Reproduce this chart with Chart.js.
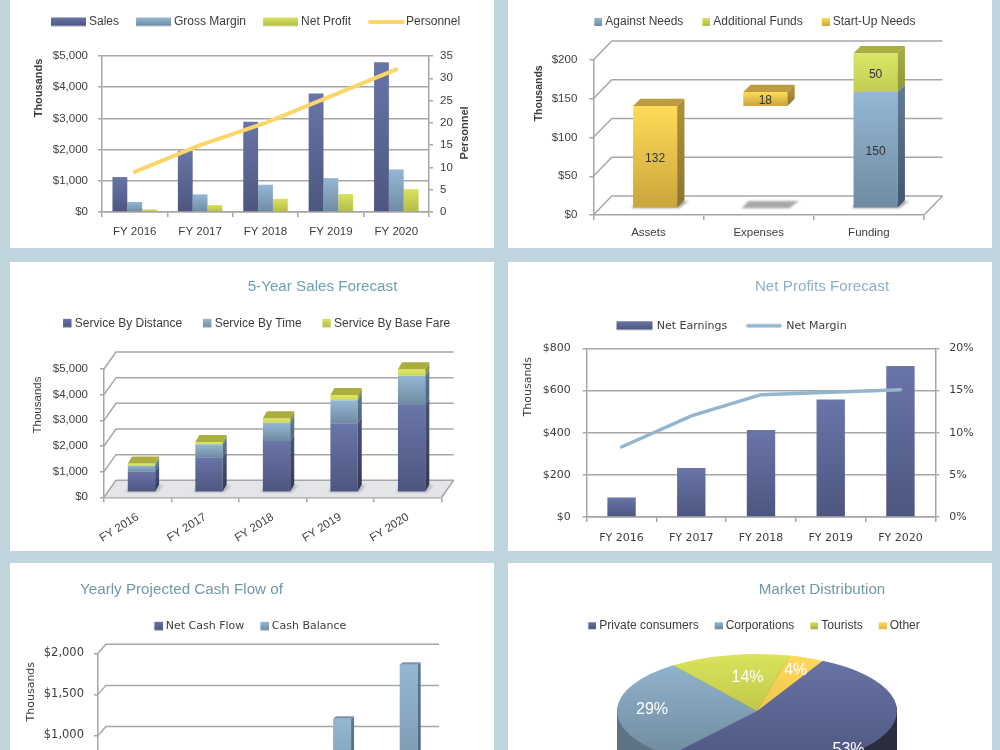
<!DOCTYPE html>
<html>
<head>
<meta charset="utf-8">
<title>Financial dashboard</title>
<script src="https://cdn.jsdelivr.net/npm/chart.js@4/dist/chart.umd.js"></script>
<style>
  html, body { margin: 0; padding: 0; width: 1000px; height: 750px; overflow: hidden; background: #bfd4dc; }
  .panel { position: absolute; background: #fff; overflow: hidden; }
  canvas { display: block; }
</style>
</head>
<body>
<script>
// ---- Series values ----
const years = ['FY 2016', 'FY 2017', 'FY 2018', 'FY 2019', 'FY 2020'];

const salesValues = [1120, 1960, 2890, 3795, 4800];
const grossMarginValues = [320, 565, 875, 1087, 1365];
const netProfitValues = [85, 224, 426, 575, 735];
const personnelValues = [9, 15, 20, 26, 32];

const needsCategories = ['Assets', 'Expenses', 'Funding'];
const stackOffset = [0, 132, 0];
const againstNeeds = [0, 0, 150];
const additionalFunds = [0, 0, 50];
const startUpNeeds = [132, 18, 0];

const serviceByDistance = [805, 1364, 2000, 2690, 3400];
const serviceByTime = [225, 505, 715, 896, 1143];
const serviceByBaseFare = [90, 91, 175, 209, 257];

const netEarnings = [93, 232, 413, 557, 716];
const netMargin = [8.3, 12, 14.5, 14.8, 15.1];

const netCashFlow = [120, 170, 330, 546, 657];
const cashBalance = [150, 290, 620, 1166, 1823];

const marketLabels = ['Private consumers', 'Corporations', 'Tourists', 'Other'];
const marketShares = [53, 29, 14, 4];

// ---- Palette and fonts ----
const INDIGO = ['#6a75a8', '#4c567f'];
const STEEL = ['#95b7d3', '#6f8ba3'];
const LIME = ['#d9e35e', '#b3bb45'];
const AMBER = ['#ffdb58', '#c9a53c'];
const GRID = '#a6a6a6';
const TEXT = '#3d3d3d';
const SANS = 'Liberation Sans';
const WIDE = 'DejaVu Sans';
const PANEL_W = 484;

// Vertical gradient stretched over one bar, following its stack position.
function barFill(stops) {
  return c => {
    if (c.type !== 'data' || !c.chart.chartArea) return stops[1];
    const s = c.chart.scales[c.dataset.yAxisID || 'y'];
    let below = 0;
    if (s.options.stacked) {
      for (let i = 0; i < c.datasetIndex; i++) below += c.chart.data.datasets[i].data[c.dataIndex] || 0;
    }
    const g = c.chart.ctx.createLinearGradient(0, s.getPixelForValue(below + (c.raw || 0)), 0, s.getPixelForValue(below));
    g.addColorStop(0, stops[0]);
    g.addColorStop(1, stops[1]);
    return g;
  };
}

// Legend key painted on a small canvas; the text gap is tightened through pointStyleWidth.
function keyWidth(sw, gap, fontSize) { return sw + gap - fontSize / 2; }
function legendKey(sw, h, pw, stops, isLine) {
  const c = document.createElement('canvas');
  c.width = Math.ceil(2 * sw - pw);
  c.height = Math.ceil(h) + 2;
  const x = c.getContext('2d');
  const left = sw - pw;
  if (isLine) {
    x.strokeStyle = stops[0];
    x.lineWidth = h;
    x.lineCap = 'round';
    x.beginPath();
    x.moveTo(left + h / 2, c.height / 2);
    x.lineTo(left + sw - h / 2, c.height / 2);
    x.stroke();
  } else {
    const g = x.createLinearGradient(0, 1, 0, 1 + h);
    g.addColorStop(0, stops[0]);
    g.addColorStop(1, stops[1]);
    x.fillStyle = g;
    x.fillRect(left, 1, sw, h);
  }
  return c;
}

function legendOptions(spec) {
  const pw = keyWidth(spec.sw, spec.gap, spec.size);
  const items = spec.items.map(it => ({
    text: it.text,
    fontColor: TEXT,
    hidden: false,
    lineWidth: 0,
    fillStyle: 'transparent',
    strokeStyle: 'transparent',
    pointStyle: legendKey(it.sw || spec.sw, it.h || spec.h, pw, it.stops, it.line)
  }));
  return {
    display: true,
    position: 'top',
    align: 'start',
    labels: {
      font: { family: spec.family, size: spec.size },
      color: TEXT,
      usePointStyle: true,
      pointStyleWidth: pw,
      boxHeight: 12,
      padding: spec.padding,
      generateLabels: () => items
    }
  };
}

function titleOptions(spec) {
  return spec
    ? { display: true, text: spec.text, color: spec.color, padding: 0,
        font: { family: SANS, size: 15.2, weight: 'normal', lineHeight: 1.2 } }
    : { display: false };
}

// Title and legend take no room in the layout and sit at their own anchors.
function anchorBoxes(spec) {
  return {
    id: 'anchorBoxes',
    beforeLayout(chart) {
      [chart.legend, chart.titleBlock].forEach(b => {
        if (b && !b.flattened) {
          const update = b.update;
          b.update = function (...args) { update.apply(this, args); this.height = 0; };
          b.flattened = true;
        }
      });
    },
    afterLayout(chart) {
      const l = chart.legend;
      const pad = spec.legend.padding;
      l.left = spec.legend.x - pad;
      l.right = chart.width + 300;
      l.top = spec.legend.cy - spec.legend.size / 2 - pad;
      l.bottom = l.top + 60;
      if (spec.title) {
        const t = chart.titleBlock;
        t.left = spec.title.cx - 150;
        t.right = spec.title.cx + 150;
        t.top = spec.title.cy - 15.2 * 0.6;
        t.bottom = t.top + 20;
      }
    }
  };
}

// Rotated axis captions.
function axisCaptions(list) {
  return {
    id: 'axisCaptions',
    afterDraw(chart) {
      const ctx = chart.ctx;
      list.forEach(n => {
        ctx.save();
        ctx.translate(n.x, n.y);
        ctx.rotate(-Math.PI / 2);
        ctx.font = n.font;
        ctx.fillStyle = TEXT;
        ctx.textAlign = 'center';
        ctx.textBaseline = 'middle';
        ctx.fillText(n.text, 0, 0);
        ctx.restore();
      });
    }
  };
}

// Box-frame walls, floor and extruded bar sides for the perspective panels.
function depthFrame(spec) {
  const tickValues = chart => chart.scales.y.ticks.map(t => t.value);
  return {
    id: 'depthFrame',
    beforeDatasetsDraw(chart) {
      const { ctx, chartArea: a, scales: { y } } = chart;
      const { wx, wy } = spec;
      ctx.save();
      if (spec.floor) {
        ctx.fillStyle = spec.floor;
        ctx.beginPath();
        ctx.moveTo(a.left, a.bottom);
        ctx.lineTo(a.right, a.bottom);
        ctx.lineTo(a.right + wx, a.bottom - wy);
        ctx.lineTo(a.left + wx, a.bottom - wy);
        ctx.closePath();
        ctx.fill();
      }
      ctx.strokeStyle = GRID;
      ctx.lineWidth = 1.5;
      tickValues(chart).forEach(v => {
        const p = y.getPixelForValue(v);
        ctx.beginPath();
        ctx.moveTo(a.left, p);
        ctx.lineTo(a.left + wx, p - wy);
        ctx.lineTo(a.right + wx, p - wy);
        ctx.stroke();
      });
      ctx.beginPath();
      ctx.moveTo(a.right, a.bottom);
      ctx.lineTo(a.right + wx, a.bottom - wy);
      ctx.stroke();
      ctx.restore();

      ctx.save();
      ctx.translate(spec.sx, -spec.sy);
      if (spec.shadow) {
        const first = chart.getDatasetMeta(0).data;
        ctx.save();
        ctx.filter = 'blur(1.2px)';
        ctx.fillStyle = spec.shadow;
        first.forEach(bar => {
          const { x, width } = bar.getProps(['x', 'width']);
          const base = y.getPixelForValue(0);
          const l = x - width / 2 - 2;
          const r = x + width / 2 + 2;
          ctx.beginPath();
          ctx.moveTo(l, base);
          ctx.lineTo(r, base);
          ctx.lineTo(r + spec.dx + 2, base - spec.dy);
          ctx.lineTo(l + spec.dx, base - spec.dy);
          ctx.closePath();
          ctx.fill();
        });
        ctx.restore();
      }
    },
    afterDatasetsDraw(chart) {
      const ctx = chart.ctx;
      const stacked = chart.scales.y.options.stacked;
      chart.data.datasets.forEach((ds, di) => {
        if (!ds.sideStops) return;
        chart.getDatasetMeta(di).data.forEach((bar, i) => {
          const { x, y, base, width } = bar.getProps(['x', 'y', 'base', 'width']);
          if (Math.abs(base - y) < 0.5) return;
          const r = x + width / 2;
          const l = x - width / 2;
          const g = ctx.createLinearGradient(0, y, 0, base);
          g.addColorStop(0, ds.sideStops[0]);
          g.addColorStop(1, ds.sideStops[1]);
          ctx.fillStyle = g;
          ctx.beginPath();
          ctx.moveTo(r, y);
          ctx.lineTo(r + spec.dx, y - spec.dy);
          ctx.lineTo(r + spec.dx, base - spec.dy);
          ctx.lineTo(r, base);
          ctx.closePath();
          ctx.fill();
          const covered = stacked && chart.data.datasets.slice(di + 1).some(d => d.sideStops && d.data[i] > 0);
          if (!covered) {
            ctx.fillStyle = ds.topColor;
            ctx.beginPath();
            ctx.moveTo(l, y);
            ctx.lineTo(r, y);
            ctx.lineTo(r + spec.dx, y - spec.dy);
            ctx.lineTo(l + spec.dx, y - spec.dy);
            ctx.closePath();
            ctx.fill();
          }
        });
      });
      ctx.restore();
    }
  };
}

function moneyScale(spec) {
  return {
    position: 'left',
    min: 0,
    max: spec.max,
    stacked: !!spec.stacked,
    afterFit: s => { s.width = spec.plot.l; },
    ticks: {
      stepSize: spec.step,
      padding: spec.tickPad,
      color: TEXT,
      font: { family: spec.family, size: spec.size },
      callback: v => '$' + Number(v).toLocaleString('en-US')
    },
    grid: { color: GRID, lineWidth: 1.5, tickLength: 4, drawOnChartArea: !spec.flatOff },
    border: { color: GRID, width: 1.5 }
  };
}

function categoryScale(spec) {
  return {
    stacked: !!spec.stacked,
    afterFit: s => { s.height = spec.h - spec.plot.b; },
    ticks: {
      autoSkip: false,
      padding: spec.labelPad,
      color: TEXT,
      font: { family: spec.family, size: spec.size },
      maxRotation: spec.rotate || 0,
      minRotation: spec.rotate || 0
    },
    grid: { color: GRID, lineWidth: 1.5, tickLength: 5, drawOnChartArea: false },
    border: { color: GRID, width: 1.5 }
  };
}

function rightScale(spec) {
  return {
    position: 'right',
    min: 0,
    max: spec.max,
    afterFit: s => { s.width = spec.width; },
    ticks: {
      stepSize: spec.step,
      padding: spec.tickPad,
      color: TEXT,
      font: { family: spec.family, size: spec.size },
      callback: spec.format || (v => v)
    },
    grid: { color: GRID, lineWidth: 1.5, tickLength: 4, drawOnChartArea: false },
    border: { color: GRID, width: 1.5 }
  };
}

function plotPadding(plot, rightWidth) {
  return { left: 0, top: plot.t, bottom: 0, right: PANEL_W - plot.r - (rightWidth || 0) };
}

function mount(x, y, h, config) {
  const host = document.createElement('div');
  host.className = 'panel';
  host.style.cssText = `left:${x}px;top:${y}px;width:${PANEL_W}px;height:${h}px`;
  const canvas = document.createElement('canvas');
  canvas.width = PANEL_W;
  canvas.height = h;
  host.appendChild(canvas);
  document.body.appendChild(host);
  config.options = Object.assign({ responsive: false, animation: false, events: [] }, config.options);
  return new Chart(canvas, config);
}

// ---- Financial highlights ----
(function () {
  const h = 248;
  const plot = { l: 92, r: 419, t: 56, b: 212 };
  const rightWidth = 45;
  mount(10, 0, h, {
    type: 'bar',
    data: {
      labels: years,
      datasets: [
        { type: 'line', label: 'Personnel', data: personnelValues, yAxisID: 'y1', order: 0, borderColor: '#fbd669', borderWidth: 4, borderCapStyle: 'round', pointRadius: 0, tension: 0, clip: false },
        { label: 'Sales', data: salesValues, order: 1, backgroundColor: barFill(INDIGO), categoryPercentage: 0.68, barPercentage: 1 },
        { label: 'Gross Margin', data: grossMarginValues, order: 1, backgroundColor: barFill(STEEL), categoryPercentage: 0.68, barPercentage: 1 },
        { label: 'Net Profit', data: netProfitValues, order: 1, backgroundColor: barFill(LIME), categoryPercentage: 0.68, barPercentage: 1 }
      ]
    },
    options: {
      layout: { padding: plotPadding(plot, rightWidth) },
      scales: {
        x: categoryScale({ h, plot, labelPad: 7.5, family: SANS, size: 11.5 }),
        y: moneyScale({ plot, max: 5000, step: 1000, tickPad: 10, family: SANS, size: 11.5 }),
        y1: rightScale({ max: 35, step: 5, tickPad: 7, family: SANS, size: 11.5, width: rightWidth })
      },
      plugins: {
        title: titleOptions(null),
        legend: legendOptions({
          family: SANS, size: 12, sw: 35, h: 8.5, gap: 3, padding: 17,
          items: [
            { text: 'Sales', stops: INDIGO },
            { text: 'Gross Margin', stops: STEEL },
            { text: 'Net Profit', stops: LIME },
            { text: 'Personnel', stops: ['#fbd669'], line: true, sw: 37, h: 4 }
          ]
        })
      }
    },
    plugins: [
      anchorBoxes({ legend: { x: 41, cy: 22, padding: 17, size: 12 } }),
      axisCaptions([
        { text: 'Thousands', x: 29.3, y: 88, font: `bold 11px "${SANS}"` },
        { text: 'Personnel', x: 455, y: 133, font: `bold 11px "${SANS}"` }
      ])
    ]
  });
})();

// ---- Start-up funding ----
(function () {
  const h = 248;
  const plot = { l: 85.3, r: 416, t: 60, b: 215 };
  mount(508, 0, h, {
    type: 'bar',
    data: {
      labels: needsCategories,
      datasets: [
        { label: 'Offset', data: stackOffset, backgroundColor: 'rgba(0,0,0,0)', categoryPercentage: 0.4, barPercentage: 1 },
        { label: 'Against Needs', data: againstNeeds, backgroundColor: barFill(STEEL), sideStops: ['#5f7896', '#44566f'], topColor: '#7d94ac', categoryPercentage: 0.4, barPercentage: 1 },
        { label: 'Additional Funds', data: additionalFunds, backgroundColor: barFill(['#dbe565', '#c3cd52']), sideStops: ['#a3aa40', '#8e9636'], topColor: '#a9ae3f', categoryPercentage: 0.4, barPercentage: 1 },
        { label: 'Start-Up Needs', data: startUpNeeds, backgroundColor: barFill(AMBER), sideStops: ['#ab8f3a', '#8d7532'], topColor: '#bc9c3d', categoryPercentage: 0.4, barPercentage: 1 }
      ]
    },
    options: {
      layout: { padding: plotPadding(plot) },
      scales: {
        x: categoryScale({ h, plot, labelPad: 6, family: SANS, size: 11.5, stacked: true }),
        y: moneyScale({ plot, max: 200, step: 50, tickPad: 12, family: SANS, size: 11.5, stacked: true, flatOff: true })
      },
      plugins: {
        title: titleOptions(null),
        legend: legendOptions({
          family: SANS, size: 12, sw: 8, h: 8, gap: 3, padding: 19,
          items: [
            { text: 'Against Needs', stops: STEEL },
            { text: 'Additional Funds', stops: LIME },
            { text: 'Start-Up Needs', stops: AMBER }
          ]
        })
      }
    },
    plugins: [
      anchorBoxes({ legend: { x: 86.3, cy: 22, padding: 19, size: 12 } }),
      depthFrame({ wx: 18.5, wy: 19, sx: 6.7, sy: 6.7, dx: 7.3, dy: 7.3, shadow: '#a9a9a9' }),
      axisCaptions([{ text: 'Thousands', x: 31, y: 93.3, font: `bold 10.5px "${SANS}"` }]),
      {
        // Value captions on the funding stacks.
        id: 'stackValues',
        afterDatasetsDraw(chart) {
          const ctx = chart.ctx;
          ctx.save();
          ctx.translate(6.7, -4.7);
          ctx.font = `12px "${SANS}"`;
          ctx.fillStyle = '#333';
          ctx.textAlign = 'center';
          ctx.textBaseline = 'middle';
          chart.data.datasets.forEach((ds, di) => {
            if (!di) return;
            chart.getDatasetMeta(di).data.forEach((bar, i) => {
              if (ds.data[i] > 0) {
                const { x, y, base } = bar.getProps(['x', 'y', 'base']);
                ctx.fillText(String(ds.data[i]), x, (y + base) / 2);
              }
            });
          });
          ctx.restore();
        }
      }
    ]
  });
})();

// ---- 5-Year Sales Forecast ----
(function () {
  const h = 289;
  const plot = { l: 94, r: 431.7, t: 107, b: 235.3 };
  mount(10, 262, h, {
    type: 'bar',
    data: {
      labels: years,
      datasets: [
        { label: 'Service By Distance', data: serviceByDistance, backgroundColor: barFill(INDIGO), sideStops: ['#475178', '#323a57'], topColor: '#525c86', categoryPercentage: 0.405, barPercentage: 1 },
        { label: 'Service By Time', data: serviceByTime, backgroundColor: barFill(STEEL), sideStops: ['#5a7492', '#4b627d'], topColor: '#7d94ac', categoryPercentage: 0.405, barPercentage: 1 },
        { label: 'Service By Base Fare', data: serviceByBaseFare, backgroundColor: barFill(['#dde665', '#d1da58']), sideStops: ['#8e9636', '#8e9636'], topColor: '#a9ae3f', categoryPercentage: 0.405, barPercentage: 1 }
      ]
    },
    options: {
      layout: { padding: plotPadding(plot) },
      scales: {
        x: categoryScale({ h, plot, labelPad: 8, family: SANS, size: 11.5, stacked: true, rotate: 32 }),
        y: moneyScale({ plot, max: 5000, step: 1000, tickPad: 12, family: SANS, size: 11.5, stacked: true, flatOff: true })
      },
      plugins: {
        title: titleOptions({ text: '5-Year Sales Forecast', color: '#6f9fb1' }),
        legend: legendOptions({
          family: SANS, size: 12, sw: 8.5, h: 8.5, gap: 3, padding: 21,
          items: [
            { text: 'Service By Distance', stops: INDIGO },
            { text: 'Service By Time', stops: STEEL },
            { text: 'Service By Base Fare', stops: LIME }
          ]
        })
      }
    },
    plugins: [
      anchorBoxes({ legend: { x: 53.3, cy: 61.3, padding: 21, size: 12 }, title: { cx: 312.5, cy: 25 } }),
      depthFrame({ wx: 12, wy: 17, sx: 3.7, sy: 5, dx: 4, dy: 7, floor: '#e3e5e9', shadow: 'rgba(150,150,150,0.55)' }),
      axisCaptions([{ text: 'Thousands', x: 27.7, y: 143, font: `11.5px "${SANS}"` }])
    ]
  });
})();

// ---- Net Profits Forecast ----
(function () {
  const h = 289;
  const plot = { l: 78.7, r: 427.3, t: 86.3, b: 255 };
  const rightWidth = 50;
  mount(508, 262, h, {
    type: 'bar',
    data: {
      labels: years,
      datasets: [
        { type: 'line', label: 'Net Margin', data: netMargin, yAxisID: 'y1', order: 0, borderColor: '#93b5cd', borderWidth: 3.5, borderCapStyle: 'round', pointRadius: 0, tension: 0, clip: false },
        { label: 'Net Earnings', data: netEarnings, order: 1, backgroundColor: barFill(INDIGO), categoryPercentage: 0.407, barPercentage: 1 }
      ]
    },
    options: {
      layout: { padding: plotPadding(plot, rightWidth) },
      scales: {
        x: categoryScale({ h, plot, labelPad: 10, family: WIDE, size: 11 }),
        y: moneyScale({ plot, max: 800, step: 200, tickPad: 12, family: WIDE, size: 11 }),
        y1: rightScale({ max: 20, step: 5, tickPad: 10, family: WIDE, size: 11, width: rightWidth, format: v => v + '%' })
      },
      plugins: {
        title: titleOptions({ text: 'Net Profits Forecast', color: '#8eb0c8' }),
        legend: legendOptions({
          family: WIDE, size: 11, sw: 36, h: 8.5, gap: 4, padding: 19,
          items: [
            { text: 'Net Earnings', stops: INDIGO },
            { text: 'Net Margin', stops: ['#93b5cd'], line: true, h: 3.5 }
          ]
        })
      }
    },
    plugins: [
      anchorBoxes({ legend: { x: 108.7, cy: 63.7, padding: 19, size: 11 }, title: { cx: 314, cy: 25 } }),
      axisCaptions([{ text: 'Thousands', x: 19.7, y: 124.7, font: `11px "${WIDE}"` }])
    ]
  });
})();

// ---- Yearly Projected Cash Flow ----
(function () {
  const h = 288;
  const plot = { l: 88, r: 421, t: 90.3, b: 254.6 };
  mount(10, 563, h, {
    type: 'bar',
    data: {
      labels: years,
      datasets: [
        { label: 'Net Cash Flow', data: netCashFlow, backgroundColor: barFill(INDIGO), sideStops: ['#475178', '#323a57'], topColor: '#525c86', categoryPercentage: 0.54, barPercentage: 1 },
        { label: 'Cash Balance', data: cashBalance, backgroundColor: barFill(STEEL), sideStops: ['#5f7896', '#44566f'], topColor: '#7d94ac', categoryPercentage: 0.54, barPercentage: 1 }
      ]
    },
    options: {
      layout: { padding: plotPadding(plot) },
      scales: {
        x: categoryScale({ h, plot, labelPad: 4, family: WIDE, size: 11 }),
        y: moneyScale({ plot, max: 2000, step: 500, tickPad: 10, family: WIDE, size: 11.5, flatOff: true })
      },
      plugins: {
        title: titleOptions({ text: 'Yearly Projected Cash Flow of', color: '#7099a8' }),
        legend: legendOptions({
          family: WIDE, size: 11, sw: 8.5, h: 8.5, gap: 3, padding: 16,
          items: [
            { text: 'Net Cash Flow', stops: INDIGO },
            { text: 'Cash Balance', stops: STEEL }
          ]
        })
      }
    },
    plugins: [
      anchorBoxes({ legend: { x: 144.3, cy: 63.3, padding: 16, size: 11 }, title: { cx: 171.5, cy: 27 } }),
      depthFrame({ wx: 8, wy: 9, sx: 2, sy: 3, dx: 3, dy: 2.5 }),
      axisCaptions([{ text: 'Thousands', x: 21, y: 128.7, font: `11px "${WIDE}"` }])
    ]
  });
})();

// ---- Market Distribution ----
(function () {
  const h = 288;
  const radius = 140;
  const cx = 249;
  const cy = 144;
  const tiltedY = 148;
  const squash = 57 / radius;
  const rim = 42;
  const sliceStops = [INDIGO, ['#95b7d3', '#6c8699'], ['#dbe35c', '#a7ac3a'], ['#ffd95a', '#e0b347']];
  const sideColors = ['#2b2e3f', '#5e7386', '#80853a', '#a98d3c'];
  const labelSpread = [0.8, 0.75, 0.62, 0.78];
  const labelNudge = [[-2, 13], [0, -1], [8, 1], [0, 1]];

  mount(508, 563, h, {
    type: 'pie',
    data: {
      labels: marketLabels,
      datasets: [{
        data: marketShares,
        borderWidth: 0,
        backgroundColor: c => {
          if (c.type !== 'data' || !c.chart.chartArea) return sliceStops[c.dataIndex || 0][1];
          const g = c.chart.ctx.createLinearGradient(0, cy - radius, 0, cy + radius);
          g.addColorStop(0, sliceStops[c.dataIndex][0]);
          g.addColorStop(1, sliceStops[c.dataIndex][1]);
          return g;
        }
      }]
    },
    options: {
      rotation: 28,
      layout: { padding: { left: cx - radius, right: PANEL_W - cx - radius, top: cy - radius, bottom: h - cy - radius } },
      plugins: {
        title: titleOptions({ text: 'Market Distribution', color: '#7099a8' }),
        legend: legendOptions({
          family: SANS, size: 12, sw: 8, h: 7, gap: 3, padding: 16,
          items: marketLabels.map((text, i) => ({ text, stops: sliceStops[i] }))
        })
      }
    },
    plugins: [
      anchorBoxes({ legend: { x: 80.3, cy: 62.7, padding: 16, size: 12 }, title: { cx: 314, cy: 27 } }),
      {
        // Flattens the pie into an ellipse and gives it a solid rim.
        id: 'tiltedPie',
        beforeDatasetsDraw(chart) {
          const ctx = chart.ctx;
          const arcs = chart.getDatasetMeta(0).data;
          ctx.save();
          ctx.translate(cx, tiltedY);
          ctx.scale(1, squash);
          ctx.translate(-cx, -cy);
          for (let d = rim; d > 0; d -= 1) {
            arcs.forEach((arc, i) => {
              const { x, y, startAngle, endAngle, outerRadius } = arc.getProps(['x', 'y', 'startAngle', 'endAngle', 'outerRadius']);
              ctx.fillStyle = sideColors[i];
              ctx.beginPath();
              ctx.moveTo(x, y + d / squash);
              ctx.arc(x, y + d / squash, outerRadius, startAngle, endAngle);
              ctx.closePath();
              ctx.fill();
            });
          }
        },
        afterDatasetsDraw(chart) {
          const ctx = chart.ctx;
          ctx.restore();
          ctx.save();
          ctx.font = `16px "${SANS}"`;
          ctx.fillStyle = '#fff';
          ctx.textAlign = 'center';
          ctx.textBaseline = 'middle';
          chart.getDatasetMeta(0).data.forEach((arc, i) => {
            const { startAngle, endAngle, outerRadius } = arc.getProps(['startAngle', 'endAngle', 'outerRadius']);
            const mid = (startAngle + endAngle) / 2;
            const r = outerRadius * labelSpread[i];
            ctx.fillText(marketShares[i] + '%', cx + Math.cos(mid) * r + labelNudge[i][0], tiltedY + Math.sin(mid) * r * squash + labelNudge[i][1]);
          });
          ctx.restore();
        }
      }
    ]
  });
})();
</script>
</body>
</html>
